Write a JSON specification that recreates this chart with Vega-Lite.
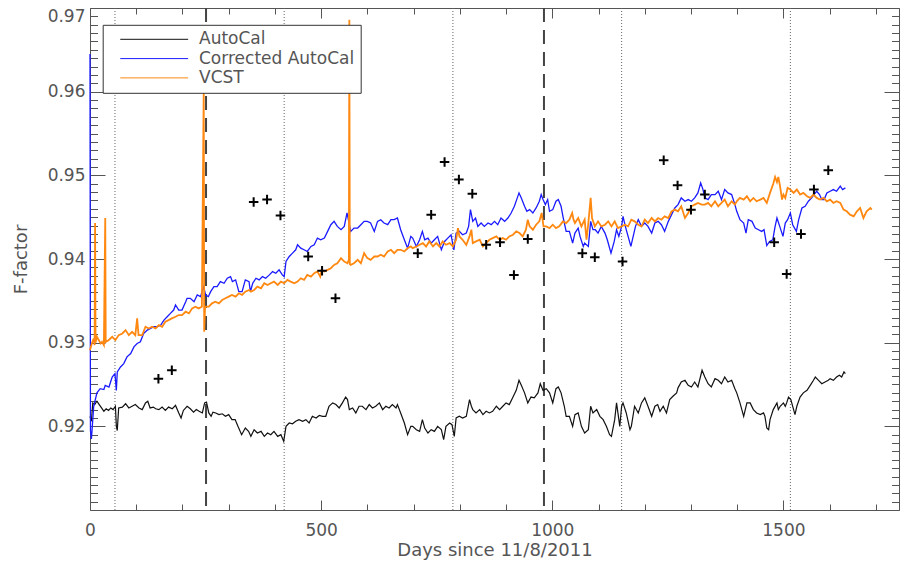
{
"$schema":"https://vega.github.io/schema/vega-lite/v6.json",
"width":809,"height":502,
"autosize":"none",
"padding":{"left":90,"top":8,"right":1,"bottom":57},
"background":"white",
"config":{"view":{"stroke":null},"axis":{"grid":false,"domainColor":"#555","domainWidth":1,"tickColor":"#555","tickWidth":1,"labelColor":"#555","titleColor":"#555","labelFont":"DejaVu Sans","titleFont":"DejaVu Sans","labelFontSize":17,"titleFontSize":18,"titleFontWeight":"normal"}},
"resolve":{"axis":{"x":"independent","y":"independent"}},
"datasets":{
"autocal":[{"day":0,"F":0.9212},{"day":3,"F":0.9206},{"day":6,"F":0.9228},{"day":10,"F":0.9226},{"day":15,"F":0.923},{"day":20,"F":0.9226},{"day":25,"F":0.9222},{"day":30,"F":0.9218},{"day":35,"F":0.9221},{"day":40,"F":0.9219},{"day":45,"F":0.9222},{"day":50,"F":0.922},{"day":55,"F":0.9224},{"day":57,"F":0.92},{"day":59,"F":0.9195},{"day":62,"F":0.9222},{"day":70,"F":0.9223},{"day":77,"F":0.9227},{"day":84,"F":0.9222},{"day":91,"F":0.9224},{"day":98,"F":0.9226},{"day":106,"F":0.9222},{"day":113,"F":0.922},{"day":120,"F":0.9228},{"day":125,"F":0.923},{"day":130,"F":0.9222},{"day":137,"F":0.9223},{"day":142,"F":0.9221},{"day":149,"F":0.922},{"day":156,"F":0.9223},{"day":163,"F":0.9219},{"day":170,"F":0.9223},{"day":178,"F":0.9221},{"day":185,"F":0.9225},{"day":192,"F":0.9216},{"day":197,"F":0.921},{"day":202,"F":0.9219},{"day":210,"F":0.9224},{"day":217,"F":0.9221},{"day":224,"F":0.9217},{"day":230,"F":0.922},{"day":236,"F":0.9218},{"day":243,"F":0.9216},{"day":248,"F":0.9228},{"day":252,"F":0.9229},{"day":257,"F":0.9216},{"day":262,"F":0.9212},{"day":266,"F":0.9217},{"day":272,"F":0.9216},{"day":279,"F":0.9214},{"day":286,"F":0.9215},{"day":293,"F":0.9212},{"day":300,"F":0.9214},{"day":307,"F":0.9208},{"day":314,"F":0.9208},{"day":320,"F":0.92},{"day":328,"F":0.919},{"day":336,"F":0.9198},{"day":343,"F":0.9194},{"day":348,"F":0.9188},{"day":355,"F":0.9196},{"day":362,"F":0.9192},{"day":370,"F":0.9194},{"day":377,"F":0.9188},{"day":384,"F":0.9192},{"day":391,"F":0.919},{"day":398,"F":0.9194},{"day":406,"F":0.9188},{"day":413,"F":0.919},{"day":419,"F":0.9182},{"day":424,"F":0.92},{"day":431,"F":0.9204},{"day":438,"F":0.9203},{"day":445,"F":0.9206},{"day":452,"F":0.9208},{"day":460,"F":0.9206},{"day":467,"F":0.9208},{"day":474,"F":0.9204},{"day":481,"F":0.9212},{"day":489,"F":0.921},{"day":496,"F":0.9213},{"day":503,"F":0.9212},{"day":510,"F":0.9212},{"day":517,"F":0.9224},{"day":525,"F":0.9228},{"day":532,"F":0.9226},{"day":539,"F":0.9222},{"day":546,"F":0.9228},{"day":553,"F":0.9235},{"day":557,"F":0.9232},{"day":561,"F":0.922},{"day":568,"F":0.9222},{"day":575,"F":0.9216},{"day":582,"F":0.9224},{"day":589,"F":0.9224},{"day":597,"F":0.922},{"day":604,"F":0.9226},{"day":611,"F":0.9222},{"day":618,"F":0.9224},{"day":626,"F":0.9228},{"day":633,"F":0.922},{"day":640,"F":0.9224},{"day":647,"F":0.9222},{"day":654,"F":0.9226},{"day":662,"F":0.9222},{"day":665,"F":0.9226},{"day":672,"F":0.9216},{"day":680,"F":0.9204},{"day":687,"F":0.919},{"day":694,"F":0.92},{"day":698,"F":0.92},{"day":706,"F":0.9196},{"day":713,"F":0.9194},{"day":719,"F":0.9208},{"day":724,"F":0.9198},{"day":731,"F":0.9192},{"day":738,"F":0.9196},{"day":745,"F":0.9194},{"day":752,"F":0.92},{"day":760,"F":0.9196},{"day":765,"F":0.9184},{"day":770,"F":0.92},{"day":778,"F":0.9204},{"day":783,"F":0.9202},{"day":788,"F":0.9188},{"day":792,"F":0.921},{"day":799,"F":0.9212},{"day":806,"F":0.921},{"day":814,"F":0.9212},{"day":821,"F":0.9232},{"day":825,"F":0.9224},{"day":828,"F":0.922},{"day":835,"F":0.9216},{"day":843,"F":0.922},{"day":850,"F":0.9214},{"day":857,"F":0.9218},{"day":864,"F":0.9216},{"day":871,"F":0.9218},{"day":879,"F":0.9224},{"day":886,"F":0.922},{"day":893,"F":0.9224},{"day":900,"F":0.9228},{"day":907,"F":0.9226},{"day":915,"F":0.9235},{"day":922,"F":0.9243},{"day":928,"F":0.9255},{"day":933,"F":0.9249},{"day":940,"F":0.924},{"day":947,"F":0.9228},{"day":954,"F":0.9235},{"day":961,"F":0.9234},{"day":969,"F":0.924},{"day":974,"F":0.9251},{"day":980,"F":0.9243},{"day":987,"F":0.9245},{"day":994,"F":0.924},{"day":1001,"F":0.9228},{"day":1008,"F":0.9245},{"day":1013,"F":0.9247},{"day":1019,"F":0.924},{"day":1026,"F":0.9224},{"day":1030,"F":0.9212},{"day":1037,"F":0.9212},{"day":1044,"F":0.92},{"day":1049,"F":0.9214},{"day":1056,"F":0.9216},{"day":1063,"F":0.92},{"day":1070,"F":0.9192},{"day":1078,"F":0.9196},{"day":1083,"F":0.9224},{"day":1088,"F":0.9216},{"day":1096,"F":0.922},{"day":1103,"F":0.9212},{"day":1110,"F":0.9208},{"day":1117,"F":0.92},{"day":1124,"F":0.919},{"day":1128,"F":0.9188},{"day":1135,"F":0.9208},{"day":1139,"F":0.9228},{"day":1142,"F":0.9216},{"day":1146,"F":0.92},{"day":1150,"F":0.9224},{"day":1153,"F":0.9228},{"day":1160,"F":0.9216},{"day":1168,"F":0.9196},{"day":1171,"F":0.92},{"day":1178,"F":0.9224},{"day":1186,"F":0.9216},{"day":1193,"F":0.9228},{"day":1200,"F":0.9234},{"day":1207,"F":0.9224},{"day":1215,"F":0.9212},{"day":1222,"F":0.9224},{"day":1228,"F":0.9226},{"day":1233,"F":0.9218},{"day":1240,"F":0.9224},{"day":1247,"F":0.9216},{"day":1254,"F":0.9232},{"day":1261,"F":0.9236},{"day":1269,"F":0.924},{"day":1272,"F":0.9246},{"day":1279,"F":0.9253},{"day":1287,"F":0.9255},{"day":1294,"F":0.9249},{"day":1301,"F":0.9247},{"day":1308,"F":0.9253},{"day":1315,"F":0.9247},{"day":1324,"F":0.9267},{"day":1330,"F":0.9259},{"day":1337,"F":0.9251},{"day":1344,"F":0.9247},{"day":1352,"F":0.9257},{"day":1359,"F":0.9255},{"day":1366,"F":0.9251},{"day":1373,"F":0.9259},{"day":1380,"F":0.9253},{"day":1388,"F":0.9255},{"day":1395,"F":0.9245},{"day":1399,"F":0.924},{"day":1406,"F":0.9228},{"day":1414,"F":0.9212},{"day":1421,"F":0.9228},{"day":1428,"F":0.9228},{"day":1435,"F":0.922},{"day":1442,"F":0.9216},{"day":1450,"F":0.9214},{"day":1457,"F":0.9216},{"day":1460,"F":0.9212},{"day":1464,"F":0.9198},{"day":1468,"F":0.9196},{"day":1471,"F":0.9208},{"day":1478,"F":0.922},{"day":1486,"F":0.9228},{"day":1489,"F":0.922},{"day":1493,"F":0.9224},{"day":1500,"F":0.9228},{"day":1504,"F":0.9224},{"day":1507,"F":0.9228},{"day":1511,"F":0.9235},{"day":1516,"F":0.9232},{"day":1522,"F":0.922},{"day":1525,"F":0.9214},{"day":1529,"F":0.9224},{"day":1536,"F":0.9235},{"day":1543,"F":0.924},{"day":1551,"F":0.9243},{"day":1558,"F":0.9249},{"day":1565,"F":0.9255},{"day":1569,"F":0.9259},{"day":1576,"F":0.9255},{"day":1583,"F":0.9251},{"day":1590,"F":0.9253},{"day":1597,"F":0.9255},{"day":1601,"F":0.9257},{"day":1608,"F":0.9255},{"day":1615,"F":0.9259},{"day":1621,"F":0.9261},{"day":1626,"F":0.9259},{"day":1631,"F":0.9265},{"day":1634,"F":0.9263}],
"corrected":[{"day":0,"F":0.9645},{"day":1,"F":0.9195},{"day":3,"F":0.9185},{"day":5,"F":0.92},{"day":8,"F":0.9224},{"day":15,"F":0.924},{"day":22,"F":0.9245},{"day":30,"F":0.9244},{"day":33,"F":0.9249},{"day":41,"F":0.9247},{"day":48,"F":0.9259},{"day":54,"F":0.9263},{"day":57,"F":0.9243},{"day":59,"F":0.9265},{"day":66,"F":0.9271},{"day":73,"F":0.9275},{"day":80,"F":0.9283},{"day":88,"F":0.9287},{"day":95,"F":0.9295},{"day":102,"F":0.9299},{"day":109,"F":0.9301},{"day":116,"F":0.9311},{"day":124,"F":0.9315},{"day":131,"F":0.9317},{"day":138,"F":0.9319},{"day":145,"F":0.9319},{"day":153,"F":0.9321},{"day":160,"F":0.9327},{"day":167,"F":0.9331},{"day":174,"F":0.9335},{"day":181,"F":0.9339},{"day":185,"F":0.9345},{"day":192,"F":0.9339},{"day":199,"F":0.9339},{"day":207,"F":0.9349},{"day":210,"F":0.9353},{"day":217,"F":0.9353},{"day":225,"F":0.9349},{"day":232,"F":0.9357},{"day":239,"F":0.9355},{"day":246,"F":0.9367},{"day":250,"F":0.9357},{"day":256,"F":0.9355},{"day":261,"F":0.9361},{"day":268,"F":0.9367},{"day":275,"F":0.9367},{"day":282,"F":0.9373},{"day":290,"F":0.9371},{"day":297,"F":0.9377},{"day":304,"F":0.9379},{"day":308,"F":0.9373},{"day":315,"F":0.9375},{"day":322,"F":0.9361},{"day":329,"F":0.9361},{"day":336,"F":0.9375},{"day":344,"F":0.9373},{"day":347,"F":0.9361},{"day":352,"F":0.9371},{"day":359,"F":0.9377},{"day":366,"F":0.9375},{"day":373,"F":0.9379},{"day":380,"F":0.9377},{"day":388,"F":0.9381},{"day":395,"F":0.9385},{"day":402,"F":0.9383},{"day":409,"F":0.9387},{"day":416,"F":0.9381},{"day":420,"F":0.9379},{"day":424,"F":0.9397},{"day":431,"F":0.9403},{"day":438,"F":0.9407},{"day":445,"F":0.9411},{"day":449,"F":0.9417},{"day":456,"F":0.9413},{"day":463,"F":0.9411},{"day":470,"F":0.9409},{"day":478,"F":0.9415},{"day":485,"F":0.9417},{"day":492,"F":0.9425},{"day":499,"F":0.9423},{"day":507,"F":0.9425},{"day":514,"F":0.9433},{"day":521,"F":0.9441},{"day":528,"F":0.9445},{"day":535,"F":0.9439},{"day":543,"F":0.9435},{"day":550,"F":0.9439},{"day":556,"F":0.9455},{"day":561,"F":0.9441},{"day":564,"F":0.9433},{"day":571,"F":0.9437},{"day":579,"F":0.9437},{"day":586,"F":0.9441},{"day":593,"F":0.9445},{"day":600,"F":0.9445},{"day":607,"F":0.9443},{"day":615,"F":0.9433},{"day":622,"F":0.9445},{"day":629,"F":0.9447},{"day":636,"F":0.9443},{"day":644,"F":0.9441},{"day":651,"F":0.9447},{"day":658,"F":0.9447},{"day":665,"F":0.9449},{"day":672,"F":0.9435},{"day":680,"F":0.9423},{"day":687,"F":0.9413},{"day":694,"F":0.9427},{"day":698,"F":0.9425},{"day":706,"F":0.9415},{"day":713,"F":0.9423},{"day":719,"F":0.9433},{"day":724,"F":0.9423},{"day":731,"F":0.9425},{"day":738,"F":0.9419},{"day":745,"F":0.9423},{"day":752,"F":0.9427},{"day":760,"F":0.9411},{"day":767,"F":0.9421},{"day":774,"F":0.9425},{"day":781,"F":0.9429},{"day":787,"F":0.9411},{"day":792,"F":0.9431},{"day":799,"F":0.9433},{"day":806,"F":0.9429},{"day":814,"F":0.9431},{"day":819,"F":0.9439},{"day":823,"F":0.9459},{"day":828,"F":0.9445},{"day":834,"F":0.9449},{"day":839,"F":0.9439},{"day":846,"F":0.9443},{"day":853,"F":0.9439},{"day":861,"F":0.9443},{"day":868,"F":0.9441},{"day":875,"F":0.9445},{"day":882,"F":0.9441},{"day":889,"F":0.9449},{"day":897,"F":0.9445},{"day":904,"F":0.9449},{"day":911,"F":0.9455},{"day":918,"F":0.9463},{"day":923,"F":0.9471},{"day":928,"F":0.9479},{"day":933,"F":0.9473},{"day":940,"F":0.9463},{"day":945,"F":0.9457},{"day":951,"F":0.9459},{"day":958,"F":0.9455},{"day":965,"F":0.9461},{"day":972,"F":0.9469},{"day":976,"F":0.9477},{"day":980,"F":0.9471},{"day":985,"F":0.9465},{"day":990,"F":0.9471},{"day":994,"F":0.9457},{"day":1001,"F":0.9459},{"day":1008,"F":0.9469},{"day":1013,"F":0.9471},{"day":1019,"F":0.9463},{"day":1023,"F":0.9451},{"day":1030,"F":0.9433},{"day":1037,"F":0.9433},{"day":1044,"F":0.9419},{"day":1049,"F":0.9431},{"day":1056,"F":0.9437},{"day":1060,"F":0.9427},{"day":1067,"F":0.9415},{"day":1070,"F":0.9419},{"day":1078,"F":0.9415},{"day":1083,"F":0.9445},{"day":1088,"F":0.9435},{"day":1093,"F":0.9435},{"day":1099,"F":0.9431},{"day":1106,"F":0.9439},{"day":1114,"F":0.9431},{"day":1119,"F":0.9423},{"day":1127,"F":0.9407},{"day":1134,"F":0.9421},{"day":1139,"F":0.9435},{"day":1144,"F":0.9427},{"day":1150,"F":0.9439},{"day":1153,"F":0.9451},{"day":1158,"F":0.9439},{"day":1164,"F":0.9427},{"day":1170,"F":0.9415},{"day":1175,"F":0.9427},{"day":1180,"F":0.9439},{"day":1186,"F":0.9447},{"day":1193,"F":0.9439},{"day":1200,"F":0.9443},{"day":1207,"F":0.9439},{"day":1215,"F":0.9431},{"day":1222,"F":0.9443},{"day":1229,"F":0.9445},{"day":1236,"F":0.9441},{"day":1243,"F":0.9433},{"day":1251,"F":0.9445},{"day":1258,"F":0.9453},{"day":1265,"F":0.9461},{"day":1272,"F":0.9465},{"day":1279,"F":0.9473},{"day":1287,"F":0.9469},{"day":1294,"F":0.9471},{"day":1301,"F":0.9469},{"day":1308,"F":0.9473},{"day":1315,"F":0.9479},{"day":1321,"F":0.9491},{"day":1326,"F":0.9483},{"day":1330,"F":0.9473},{"day":1337,"F":0.9471},{"day":1344,"F":0.9477},{"day":1352,"F":0.9477},{"day":1359,"F":0.9481},{"day":1366,"F":0.9471},{"day":1373,"F":0.9483},{"day":1380,"F":0.9479},{"day":1388,"F":0.9477},{"day":1395,"F":0.9465},{"day":1399,"F":0.9457},{"day":1406,"F":0.9447},{"day":1414,"F":0.9443},{"day":1419,"F":0.9431},{"day":1424,"F":0.9447},{"day":1432,"F":0.9445},{"day":1439,"F":0.9437},{"day":1446,"F":0.9435},{"day":1453,"F":0.9433},{"day":1458,"F":0.9435},{"day":1464,"F":0.9416},{"day":1470,"F":0.9421},{"day":1477,"F":0.9423},{"day":1482,"F":0.9439},{"day":1486,"F":0.9449},{"day":1492,"F":0.9439},{"day":1499,"F":0.9427},{"day":1504,"F":0.9443},{"day":1509,"F":0.9447},{"day":1515,"F":0.9455},{"day":1520,"F":0.9441},{"day":1528,"F":0.9433},{"day":1533,"F":0.9447},{"day":1540,"F":0.9461},{"day":1547,"F":0.9463},{"day":1554,"F":0.9469},{"day":1561,"F":0.9473},{"day":1569,"F":0.9479},{"day":1572,"F":0.9481},{"day":1578,"F":0.9477},{"day":1583,"F":0.9471},{"day":1588,"F":0.9471},{"day":1594,"F":0.9479},{"day":1601,"F":0.9481},{"day":1608,"F":0.9483},{"day":1615,"F":0.9481},{"day":1623,"F":0.9487},{"day":1628,"F":0.9483},{"day":1634,"F":0.9485}],
"vcst":[{"day":0,"F":0.9291},{"day":2,"F":0.9295},{"day":4,"F":0.9299},{"day":8,"F":0.9305},{"day":10,"F":0.9297},{"day":11,"F":0.9443},{"day":12,"F":0.93},{"day":15,"F":0.9307},{"day":23,"F":0.9299},{"day":26,"F":0.9301},{"day":30,"F":0.9297},{"day":33,"F":0.9449},{"day":34,"F":0.9301},{"day":40,"F":0.9303},{"day":48,"F":0.9307},{"day":55,"F":0.9303},{"day":62,"F":0.9309},{"day":70,"F":0.9311},{"day":77,"F":0.9315},{"day":84,"F":0.9309},{"day":91,"F":0.9313},{"day":98,"F":0.9309},{"day":102,"F":0.9329},{"day":105,"F":0.9309},{"day":113,"F":0.9309},{"day":120,"F":0.9319},{"day":127,"F":0.9317},{"day":134,"F":0.9319},{"day":142,"F":0.9317},{"day":149,"F":0.9321},{"day":156,"F":0.9319},{"day":163,"F":0.9325},{"day":170,"F":0.9327},{"day":177,"F":0.9329},{"day":185,"F":0.9331},{"day":192,"F":0.9333},{"day":199,"F":0.9333},{"day":207,"F":0.9337},{"day":214,"F":0.9335},{"day":221,"F":0.9341},{"day":228,"F":0.9343},{"day":235,"F":0.9341},{"day":242,"F":0.9343},{"day":246,"F":0.9602},{"day":247,"F":0.9313},{"day":249,"F":0.9343},{"day":253,"F":0.9343},{"day":257,"F":0.9343},{"day":264,"F":0.9347},{"day":271,"F":0.9349},{"day":279,"F":0.9347},{"day":286,"F":0.9351},{"day":293,"F":0.9353},{"day":300,"F":0.9355},{"day":307,"F":0.9357},{"day":315,"F":0.9355},{"day":322,"F":0.9359},{"day":329,"F":0.9357},{"day":336,"F":0.9361},{"day":344,"F":0.9363},{"day":348,"F":0.9361},{"day":355,"F":0.9363},{"day":362,"F":0.9367},{"day":370,"F":0.9365},{"day":377,"F":0.9371},{"day":384,"F":0.9369},{"day":391,"F":0.9371},{"day":398,"F":0.9373},{"day":406,"F":0.9369},{"day":413,"F":0.9373},{"day":420,"F":0.9371},{"day":427,"F":0.9375},{"day":434,"F":0.9373},{"day":442,"F":0.9371},{"day":449,"F":0.9373},{"day":456,"F":0.9377},{"day":463,"F":0.9375},{"day":470,"F":0.9381},{"day":478,"F":0.9379},{"day":485,"F":0.9383},{"day":492,"F":0.9385},{"day":498,"F":0.9379},{"day":501,"F":0.9387},{"day":507,"F":0.9385},{"day":514,"F":0.9387},{"day":521,"F":0.9389},{"day":528,"F":0.9393},{"day":535,"F":0.9395},{"day":543,"F":0.9401},{"day":550,"F":0.9397},{"day":557,"F":0.9395},{"day":560,"F":0.9399},{"day":561,"F":0.9686},{"day":562,"F":0.9394},{"day":564,"F":0.9393},{"day":571,"F":0.9395},{"day":579,"F":0.9399},{"day":586,"F":0.9395},{"day":593,"F":0.9407},{"day":600,"F":0.9401},{"day":607,"F":0.9399},{"day":615,"F":0.9403},{"day":622,"F":0.9403},{"day":629,"F":0.9405},{"day":636,"F":0.9403},{"day":644,"F":0.9409},{"day":651,"F":0.9411},{"day":658,"F":0.9407},{"day":665,"F":0.9411},{"day":672,"F":0.9411},{"day":680,"F":0.9409},{"day":687,"F":0.9413},{"day":694,"F":0.9415},{"day":698,"F":0.9413},{"day":706,"F":0.9415},{"day":713,"F":0.9417},{"day":720,"F":0.9419},{"day":727,"F":0.9415},{"day":734,"F":0.9421},{"day":742,"F":0.9415},{"day":749,"F":0.9419},{"day":756,"F":0.9415},{"day":763,"F":0.9421},{"day":770,"F":0.9417},{"day":778,"F":0.9419},{"day":785,"F":0.9415},{"day":792,"F":0.9423},{"day":796,"F":0.9437},{"day":799,"F":0.9427},{"day":806,"F":0.9423},{"day":814,"F":0.9417},{"day":821,"F":0.9427},{"day":825,"F":0.9435},{"day":828,"F":0.9419},{"day":835,"F":0.9421},{"day":843,"F":0.9423},{"day":850,"F":0.9415},{"day":857,"F":0.9419},{"day":864,"F":0.9423},{"day":871,"F":0.9425},{"day":879,"F":0.9427},{"day":886,"F":0.9423},{"day":893,"F":0.9425},{"day":900,"F":0.9423},{"day":907,"F":0.9427},{"day":915,"F":0.9429},{"day":922,"F":0.9433},{"day":929,"F":0.9431},{"day":936,"F":0.9427},{"day":943,"F":0.9435},{"day":947,"F":0.9447},{"day":951,"F":0.9439},{"day":958,"F":0.9435},{"day":965,"F":0.9441},{"day":972,"F":0.9445},{"day":977,"F":0.9455},{"day":981,"F":0.9439},{"day":987,"F":0.9439},{"day":994,"F":0.9437},{"day":1001,"F":0.9441},{"day":1008,"F":0.9437},{"day":1015,"F":0.9439},{"day":1023,"F":0.9445},{"day":1030,"F":0.9443},{"day":1037,"F":0.9447},{"day":1043,"F":0.9455},{"day":1046,"F":0.9447},{"day":1049,"F":0.9443},{"day":1056,"F":0.9449},{"day":1063,"F":0.9439},{"day":1070,"F":0.9447},{"day":1074,"F":0.9423},{"day":1078,"F":0.9443},{"day":1083,"F":0.9473},{"day":1086,"F":0.9449},{"day":1092,"F":0.9439},{"day":1099,"F":0.9445},{"day":1106,"F":0.9439},{"day":1114,"F":0.9441},{"day":1121,"F":0.9445},{"day":1128,"F":0.9439},{"day":1135,"F":0.9445},{"day":1142,"F":0.9437},{"day":1150,"F":0.9439},{"day":1157,"F":0.9441},{"day":1164,"F":0.9439},{"day":1171,"F":0.9447},{"day":1178,"F":0.9445},{"day":1186,"F":0.9441},{"day":1193,"F":0.9439},{"day":1200,"F":0.9447},{"day":1207,"F":0.9443},{"day":1215,"F":0.9449},{"day":1222,"F":0.9445},{"day":1229,"F":0.9449},{"day":1236,"F":0.9447},{"day":1243,"F":0.9451},{"day":1251,"F":0.9449},{"day":1258,"F":0.9457},{"day":1265,"F":0.9459},{"day":1272,"F":0.9457},{"day":1279,"F":0.9463},{"day":1287,"F":0.9449},{"day":1294,"F":0.9455},{"day":1301,"F":0.9463},{"day":1308,"F":0.9465},{"day":1315,"F":0.9467},{"day":1323,"F":0.9465},{"day":1330,"F":0.9465},{"day":1337,"F":0.9467},{"day":1344,"F":0.9463},{"day":1352,"F":0.9469},{"day":1359,"F":0.9463},{"day":1366,"F":0.9467},{"day":1373,"F":0.9471},{"day":1380,"F":0.9463},{"day":1388,"F":0.9469},{"day":1395,"F":0.9465},{"day":1399,"F":0.9469},{"day":1406,"F":0.9473},{"day":1414,"F":0.9471},{"day":1421,"F":0.9475},{"day":1428,"F":0.9469},{"day":1435,"F":0.9473},{"day":1442,"F":0.9469},{"day":1450,"F":0.9471},{"day":1457,"F":0.9473},{"day":1464,"F":0.9467},{"day":1471,"F":0.9479},{"day":1478,"F":0.949},{"day":1482,"F":0.9498},{"day":1486,"F":0.9492},{"day":1489,"F":0.9498},{"day":1493,"F":0.9486},{"day":1497,"F":0.9471},{"day":1500,"F":0.9477},{"day":1504,"F":0.9473},{"day":1509,"F":0.9485},{"day":1515,"F":0.9483},{"day":1522,"F":0.9479},{"day":1529,"F":0.9483},{"day":1536,"F":0.9477},{"day":1543,"F":0.9479},{"day":1551,"F":0.9475},{"day":1558,"F":0.9473},{"day":1565,"F":0.9477},{"day":1572,"F":0.9473},{"day":1579,"F":0.9471},{"day":1587,"F":0.9473},{"day":1594,"F":0.9469},{"day":1601,"F":0.9471},{"day":1608,"F":0.9467},{"day":1615,"F":0.9469},{"day":1623,"F":0.9467},{"day":1630,"F":0.9459},{"day":1637,"F":0.9457},{"day":1644,"F":0.9453},{"day":1652,"F":0.9451},{"day":1659,"F":0.9457},{"day":1666,"F":0.9461},{"day":1673,"F":0.9449},{"day":1680,"F":0.9457},{"day":1688,"F":0.9461},{"day":1691,"F":0.9459}],
"crosses":[{"day":148,"F":0.9257},{"day":177,"F":0.9267},{"day":354,"F":0.9468},{"day":383,"F":0.9471},{"day":412,"F":0.9452},{"day":472,"F":0.9403},{"day":502,"F":0.9386},{"day":531,"F":0.9353},{"day":709,"F":0.9407},{"day":738,"F":0.9453},{"day":767,"F":0.9516},{"day":798,"F":0.9495},{"day":827,"F":0.9478},{"day":857,"F":0.9417},{"day":887,"F":0.942},{"day":917,"F":0.9381},{"day":947,"F":0.9424},{"day":1065,"F":0.9407},{"day":1092,"F":0.9402},{"day":1152,"F":0.9397},{"day":1241,"F":0.9518},{"day":1271,"F":0.9488},{"day":1300,"F":0.9459},{"day":1330,"F":0.9477},{"day":1480,"F":0.942},{"day":1507,"F":0.9382},{"day":1538,"F":0.943},{"day":1566,"F":0.9483},{"day":1597,"F":0.9506}]
},
"layer":[
{"data":{"values":[{"day":54},{"day":420},{"day":785},{"day":1150},{"day":1515}]},
 "mark":{"type":"rule","color":"#666666","strokeWidth":1,"strokeDash":[1,2]},
 "encoding":{"x":{"field":"day","type":"quantitative","scale":{"domain":[0,1750],"nice":false,"zero":false},"axis":null}}},
{"data":{"values":[{"day":251},{"day":982}]},
 "mark":{"type":"rule","color":"#444444","strokeWidth":2,"strokeDash":[14,8]},
 "encoding":{"x":{"field":"day","type":"quantitative","scale":{"domain":[0,1750],"nice":false,"zero":false},"axis":null}}},
{"data":{"name":"autocal"},
 "mark":{"type":"line","strokeWidth":1.2},
 "encoding":{
  "x":{"field":"day","type":"quantitative","scale":{"domain":[0,1750],"nice":false,"zero":false},"axis":{"orient":"bottom","values":[0,500,1000,1500],"tickSize":-10,"labelPadding":22,"labelFlush":false,"format":"d","title":"Days since 11/8/2011","titlePadding":3}},
  "y":{"field":"F","type":"quantitative","scale":{"domain":[0.91,0.97],"nice":false,"zero":false},"axis":{"orient":"left","values":[0.92,0.93,0.94,0.95,0.96,0.97],"tickSize":-15,"labelPadding":20,"labelFlush":true,"format":".2f","title":"F-factor","titlePadding":17}},
  "color":{"datum":"AutoCal","scale":{"domain":["AutoCal","Corrected AutoCal","VCST"],"range":["#111111","#1a1aff","#ff8811"]},
   "legend":{"orient":"none","legendX":12.7,"legendY":16.8,"title":null,"strokeColor":"#333333","fillColor":"white","padding":6,"rowPadding":1.3,"symbolType":"M-6,0H6","symbolSize":128,"symbolStrokeWidth":1,"symbolOffset":37,"labelOffset":36.3,"labelLimit":400,"labelFont":"DejaVu Sans","labelFontSize":17,"labelColor":"#555555","cornerRadius":0}}}},
{"data":{"name":"corrected"},
 "mark":{"type":"line","strokeWidth":1.3},
 "encoding":{
  "x":{"field":"day","type":"quantitative","scale":{"domain":[0,1750],"nice":false,"zero":false},"axis":{"orient":"bottom","values":[100,200,300,400,600,700,800,900,1100,1200,1300,1400,1600,1700],"tickSize":-6,"labels":false,"domain":false,"title":null}},
  "y":{"field":"F","type":"quantitative","scale":{"domain":[0.91,0.97],"nice":false,"zero":false},"axis":{"orient":"left","values":[0.911,0.912,0.913,0.914,0.915,0.916,0.917,0.918,0.919,0.921,0.922,0.923,0.924,0.925,0.926,0.927,0.928,0.929,0.931,0.932,0.933,0.934,0.935,0.936,0.937,0.938,0.939,0.941,0.942,0.943,0.944,0.945,0.946,0.947,0.948,0.949,0.951,0.952,0.953,0.954,0.955,0.956,0.957,0.958,0.959,0.961,0.962,0.963,0.964,0.965,0.966,0.967,0.968,0.969],"tickSize":-7.5,"labels":false,"domain":false,"title":null}},
  "color":{"datum":"Corrected AutoCal"}}},
{"data":{"name":"vcst"},
 "mark":{"type":"line","strokeWidth":1.8},
 "encoding":{
  "x":{"field":"day","type":"quantitative","scale":{"domain":[0,1750],"nice":false,"zero":false},"axis":{"orient":"top","values":[0,500,1000,1500],"tickSize":-10,"labels":false,"domain":true,"title":null}},
  "y":{"field":"F","type":"quantitative","scale":{"domain":[0.91,0.97],"nice":false,"zero":false},"axis":{"orient":"right","values":[0.91,0.92,0.93,0.94,0.95,0.96,0.97],"tickSize":-15,"labels":false,"domain":true,"title":null}},
  "color":{"datum":"VCST"}}},
{"data":{"name":"crosses"},
 "mark":{"type":"point","shape":"M-1,0H1M0,-1V1","size":90,"filled":false,"color":"#000000","strokeWidth":2,"opacity":1},
 "encoding":{
  "x":{"field":"day","type":"quantitative","scale":{"domain":[0,1750],"nice":false,"zero":false},"axis":{"orient":"top","values":[100,200,300,400,600,700,800,900,1100,1200,1300,1400,1600,1700],"tickSize":-6,"labels":false,"domain":false,"title":null}},
  "y":{"field":"F","type":"quantitative","scale":{"domain":[0.91,0.97],"nice":false,"zero":false},"axis":{"orient":"right","values":[0.911,0.912,0.913,0.914,0.915,0.916,0.917,0.918,0.919,0.921,0.922,0.923,0.924,0.925,0.926,0.927,0.928,0.929,0.931,0.932,0.933,0.934,0.935,0.936,0.937,0.938,0.939,0.941,0.942,0.943,0.944,0.945,0.946,0.947,0.948,0.949,0.951,0.952,0.953,0.954,0.955,0.956,0.957,0.958,0.959,0.961,0.962,0.963,0.964,0.965,0.966,0.967,0.968,0.969],"tickSize":-7.5,"labels":false,"domain":false,"title":null}}}}
]
}
